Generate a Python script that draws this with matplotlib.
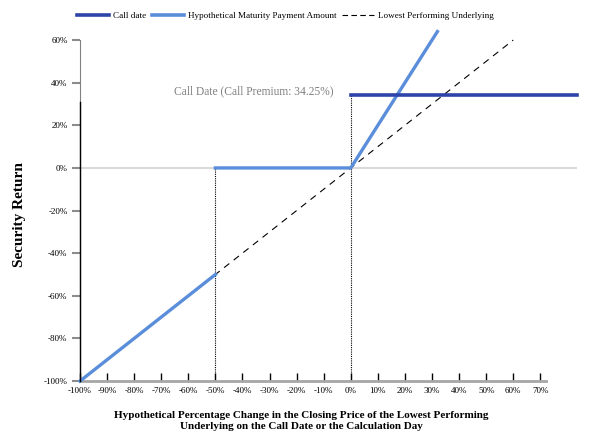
import matplotlib
matplotlib.use("Agg")
import matplotlib.pyplot as plt
from matplotlib.lines import Line2D

# data (percent)
payment_low_x = [-100, -50]
payment_low_y = [-100, -50]
payment_high_x = [-50, 0, 32]
payment_high_y = [0, 0, 64]
underlying_x = [-100, 60]
underlying_y = [-100, 60]
call_premium = 34.25
call_x = [0, 83.5]
x_ticks = [-100, -90, -80, -70, -60, -50, -40, -30, -20, -10, 0, 10, 20, 30, 40, 50, 60, 70]
y_ticks = [-100, -80, -60, -40, -20, 0, 20, 40, 60]

DARK = "#2D45A8"
LIGHT = "#5A8EDB"

plt.rcParams["font.family"] = ["Liberation Serif", "DejaVu Serif"]

fig = plt.figure(figsize=(5.95, 4.4), dpi=100)
ax = fig.add_axes([0.1345, 0.134, 0.835, 0.804])
ax.set_xlim(-100, 83.5)
ax.set_ylim(-100, 66)

# zero gridline
ax.axhline(0, color="#d9d9d9", lw=1.5, zorder=1)

# dotted guides
ax.plot([-50, -50], [-100, 0], color="black", lw=0.8, ls=(0, (1, 1)), zorder=2)
ax.plot([0, 0], [-100, call_premium], color="black", lw=0.8, ls=(0, (1, 1)), zorder=2)

# lines
ax.plot(underlying_x, underlying_y, color="black", lw=0.8, ls=(0, (6, 5)), zorder=3)
ax.plot(payment_low_x, payment_low_y, color=LIGHT, lw=2.4, zorder=4, clip_on=False)
ax.plot(payment_high_x, payment_high_y, color=LIGHT, lw=2.4, zorder=4, clip_on=False)
ax.plot(call_x, [call_premium, call_premium], color=DARK, lw=2.6, zorder=5, clip_on=False)

ax.text(-6.5, call_premium + 1.5, "Call Date (Call Premium: 34.25%)", ha="right", va="center",
        fontsize=8.3, color="#7f7f7f")

# axes styling
for s in ["top", "right"]:
    ax.spines[s].set_visible(False)
ax.spines["left"].set_color("#808080")
ax.spines["left"].set_bounds(-100, 60)
ax.spines["bottom"].set_color("#a6a6a6")
ax.spines["bottom"].set_linewidth(2)
ax.spines["bottom"].set_bounds(-100, 72)
ax.plot([-100, -100], [-100, 31], color="black", lw=1, zorder=6, clip_on=False)

ax.set_xticks(x_ticks)
ax.set_xticklabels([f"{v}%" for v in x_ticks])
ax.set_yticks(y_ticks)
ax.set_yticklabels([f"{v}%" for v in y_ticks])
ax.tick_params(axis="x", direction="in", length=6, width=1, color="black", labelsize=6.5, pad=4)
ax.tick_params(axis="y", direction="out", length=6, width=1.5, color="#8c8c8c", labelsize=6.5, pad=3)

ax.set_ylabel("Security Return", fontsize=11, fontweight="bold")
ax.yaxis.set_label_coords(-0.108, 0.47)
ax.set_xlabel("Hypothetical Percentage Change in the Closing Price of the Lowest Performing\n"
              "Underlying on the Call Date or the Calculation Day",
              fontsize=8, fontweight="bold", linespacing=1.3)
ax.xaxis.set_label_coords(0.445, -0.085)
ax.xaxis.label.set_va("top")

handles = [
    Line2D([], [], color=DARK, lw=2.6),
    Line2D([], [], color=LIGHT, lw=2.6),
    Line2D([], [], color="black", lw=0.8, ls=(0, (5, 3))),
]
labels = ["Call date", "Hypothetical Maturity Payment Amount", "Lowest Performing Underlying"]
fig.legend(handles, labels, loc="center", bbox_to_anchor=(0.48, 0.963), ncol=3, frameon=False,
           fontsize=6.6, handlelength=3.5, handletextpad=0.45, columnspacing=0.6)

fig.savefig("out.png", dpi=100)
